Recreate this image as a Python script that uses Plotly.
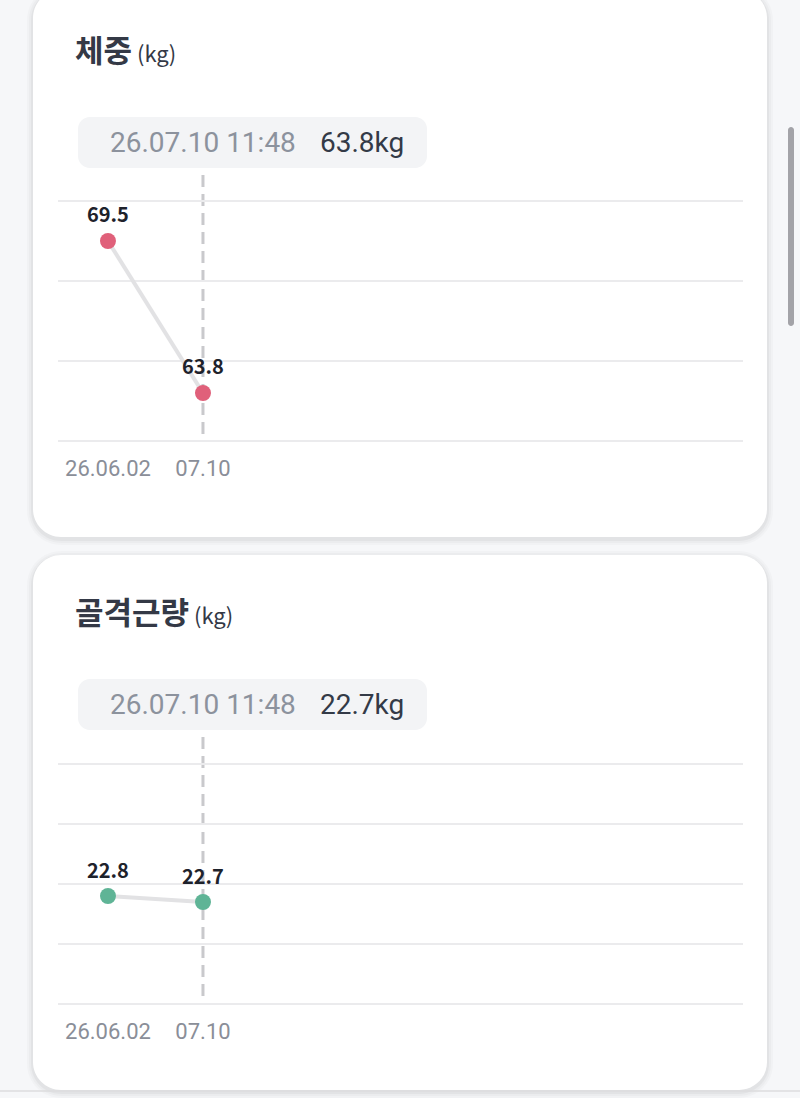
import plotly.graph_objects as go

# ── 데이터 ────────────────────────────────────────────────────────────────────
dates       = ["26.06.02", "26.07.10"]
tick_labels = ["26.06.02", "07.10"]
weight      = [69.5, 63.8]
muscle      = [22.8, 22.7]
weight_grid = [62, 65, 68, 71]
muscle_grid = [21, 22, 23, 24, 25]
last_time   = "11:48"

W, H = 800, 1098
BG = "#f6f7f9"
FONT_KR = "Noto Sans CJK KR"
FONT_UI = "Roboto"
PAD = 2  # 가장자리 격자선이 잘리지 않도록 여유 픽셀


def px(x):
    return x / W


def py(y):
    return 1 - y / H


def rounded(x0, y0, x1, y1, r):
    k = 0.5523 * r
    pts = [
        ("M", [(x0 + r, y0)]),
        ("L", [(x1 - r, y0)]),
        ("C", [(x1 - r + k, y0), (x1, y0 + r - k), (x1, y0 + r)]),
        ("L", [(x1, y1 - r)]),
        ("C", [(x1, y1 - r + k), (x1 - r + k, y1), (x1 - r, y1)]),
        ("L", [(x0 + r, y1)]),
        ("C", [(x0 + r - k, y1), (x0, y1 - r + k), (x0, y1 - r)]),
        ("L", [(x0, y0 + r)]),
        ("C", [(x0, y0 + r - k), (x0 + r - k, y0), (x0 + r, y0)]),
    ]
    s = ""
    for cmd, ps in pts:
        s += cmd + " " + " ".join(f"{px(a):.5f},{py(b):.5f}" for a, b in ps) + " "
    return s + "Z"


charts = [
    dict(title="체중", unit="kg", values=weight, grid=weight_grid, color="#e0607a",
         card=(33, -10, 767, 537), title_y=48, tip=(78, 117, 427, 168),
         plot=(201, 441), dash=(175, 436)),
    dict(title="골격근량", unit="kg", values=muscle, grid=muscle_grid, color="#5fb496",
         card=(33, 555, 767, 1090), title_y=610, tip=(78, 679, 427, 730),
         plot=(764, 1004), dash=(737, 998)),
]

fig = go.Figure()
shapes, annotations = [], []

for i, c in enumerate(charts):
    n = "" if i == 0 else str(i + 1)
    xa, ya = "x" + n, "y" + n

    # 카드 + 그림자
    x0, y0, x1, y1 = c["card"]
    for s, op in [(6, 0.02), (4, 0.025), (2, 0.035)]:
        shapes.append(dict(type="path", xref="paper", yref="paper", layer="below",
                           path=rounded(x0 - s, y0 - s + 2, x1 + s, y1 + s + 2, 28 + s),
                           fillcolor=f"rgba(0,0,0,{op})", line=dict(width=0)))
    shapes.append(dict(type="path", xref="paper", yref="paper", layer="below",
                       path=rounded(x0, y0, x1, y1, 28),
                       fillcolor="#ffffff", line=dict(width=0)))

    # 툴팁 박스
    tx0, ty0, tx1, ty1 = c["tip"]
    shapes.append(dict(type="path", xref="paper", yref="paper", layer="below",
                       path=rounded(tx0, ty0, tx1, ty1, 12),
                       fillcolor="#f3f4f6", line=dict(width=0)))
    tmid = (ty0 + ty1) / 2
    annotations.append(dict(xref="paper", yref="paper", x=px(298), y=py(tmid),
                            xanchor="right", yanchor="middle", showarrow=False,
                            text=f"{dates[-1]} {last_time}",
                            font=dict(family=FONT_UI, size=28, color="#8c929d")))
    annotations.append(dict(xref="paper", yref="paper", x=px(318), y=py(tmid),
                            xanchor="left", yanchor="middle", showarrow=False,
                            text=f"{c['values'][-1]}{c['unit']}",
                            font=dict(family=FONT_UI, size=28, color="#333a47")))

    # 제목
    annotations.append(dict(xref="paper", yref="paper", x=px(73), y=py(c["title_y"]),
                            xanchor="left", yanchor="middle", showarrow=False,
                            text=f"<b>{c['title']}</b><span style='font-size:22px'> ({c['unit']})</span>",
                            font=dict(family=FONT_KR, size=31, color="#343946")))

    # 선택된 지점 점선
    d0, d1 = c["dash"]
    shapes.append(dict(type="line", xref=xa, yref="paper", layer="between",
                       x0=len(c["values"]) - 1, x1=len(c["values"]) - 1,
                       y0=py(d0), y1=py(d1),
                       line=dict(color="#c9c9cc", width=3, dash="12px,7px")))

    idx = list(range(len(c["values"])))
    fig.add_trace(go.Scatter(
        x=idx, y=c["values"], xaxis=xa, yaxis=ya,
        mode="lines+markers",
        line=dict(color="#e2e2e4", width=4),
        marker=dict(size=16, color=c["color"]),
        hoverinfo="skip", showlegend=False,
    ))
    for xi, v in zip(idx, c["values"]):
        annotations.append(dict(xref=xa, yref=ya, x=xi, y=v, yshift=27,
                                showarrow=False, text=f"<b>{v}</b>",
                                font=dict(family=FONT_KR, size=20, color="#1e222b")))

    p0, p1 = c["plot"]
    per_px = (c["grid"][-1] - c["grid"][0]) / (p1 - p0)
    fig.update_layout(**{
        ("xaxis" + n): dict(domain=[px(58), px(743)], range=[-0.526, 6.684],
                            anchor=ya, tickvals=idx, ticktext=tick_labels,
                            showgrid=False, zeroline=False, showline=False,
                            ticks="outside", ticklen=6, tickcolor="rgba(0,0,0,0)",
                            tickfont=dict(family=FONT_UI, size=22, color="#8a8e98"),
                            fixedrange=True),
        ("yaxis" + n): dict(domain=[py(p1 + PAD), py(p0 - PAD)],
                            range=[c["grid"][0] - PAD * per_px, c["grid"][-1] + PAD * per_px],
                            anchor=xa, tickvals=c["grid"], showticklabels=False,
                            showgrid=True, gridcolor="#ebebed", gridwidth=1.5,
                            zeroline=False, fixedrange=True),
    })

# 스크롤바, 하단 구분선
shapes.append(dict(type="path", xref="paper", yref="paper", layer="above",
                   path=rounded(788, 127, 794, 326, 3),
                   fillcolor="#a3a3a8", line=dict(width=0)))
shapes.append(dict(type="line", xref="paper", yref="paper", x0=0, x1=1,
                   y0=py(1091), y1=py(1091), layer="above",
                   line=dict(color="#dcdcde", width=1.5)))

fig.update_layout(
    width=W, height=H,
    margin=dict(l=0, r=0, t=0, b=0),
    paper_bgcolor=BG, plot_bgcolor="rgba(0,0,0,0)",
    shapes=shapes, annotations=annotations,
)

fig.write_html("out.html", config={"displayModeBar": False},
               post_script="document.body.style.margin='0';")
